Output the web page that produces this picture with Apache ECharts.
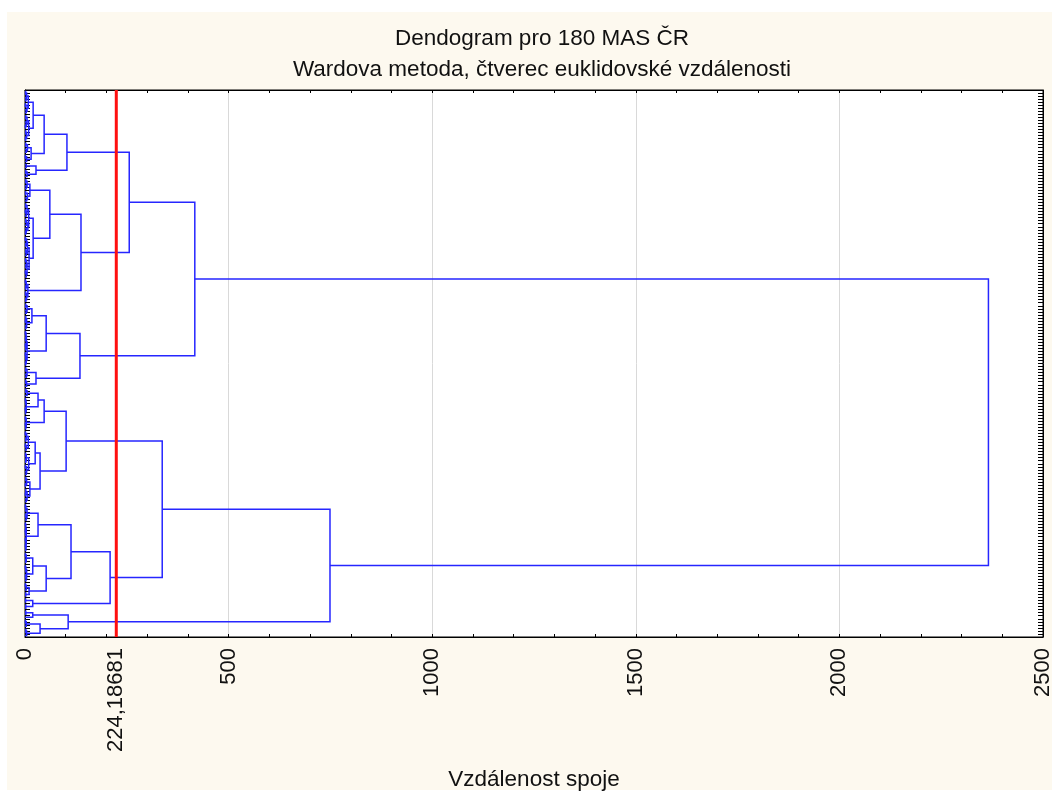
<!DOCTYPE html>
<html><head><meta charset="utf-8">
<script src="https://cdn.jsdelivr.net/npm/echarts@6/dist/echarts.min.js"></script>
<style>
html,body{margin:0;padding:0;background:#fff;}
#bg{position:absolute;left:7px;top:12px;width:1045px;height:778px;background:#fdf9ef;}
#chart{position:absolute;left:0;top:0;width:1052px;height:792px;}
</style></head><body>
<div id="bg"></div><div id="chart"></div>
<script>
const titleText = 'Dendogram pro 180 MAS ČR';
const subtitleText = 'Wardova metoda, čtverec euklidovské vzdálenosti';
const xAxisName = 'Vzdálenost spoje';
const cutDistance = 224.18681;
const xTickLabels = [0, 224.18681, 500, 1000, 1500, 2000, 2500];
const leafCount = 180;

// Tree: a leaf is 1, a merge is [left, right, linkage distance]
// Cluster A, upper part
const G105 = [[[1,1,1.5],[1,1,2.5],4],[[1,1,1],[1,1,3],5],8];
const G131 = [[[1,1,2],[1,[1,1,1],3],5],[[1,1,2],[1,1,1.5],4],9];
const G153 = [[[1,1,2],[1,1,3],6],[[1,1,1],1,4],15];
const G170 = [[1,1,3],[[1,1,2],1,5],27];
const G189 = [[[1,1,2],[1,1,3],5],[[1,1,1.5],[1,1,4],6],12];
const G220 = [[[1,1,2],[[1,1,1],1,3],5],[[[1,1,2],1,4],[1,[1,1,1.5],3],7],9];
const G257 = [[[[1,1,1],[1,1,2],4],[[1,1,2],1,3],6],[[[1,1,1.5],[1,1,2.5],4],[[1,1,1],1,3],5],10];
const G291 = [[[1,1,1],[1,1,2],3],[[1,1,1.5],[1,1,2],4],7];
const G318 = [[[1,1,2],[1,1,3],5],[[1,[1,1,1],2],[1,1,2.5],4],17];
const G349 = [[[[1,1,1],[1,1,1.5],2.5],[[1,1,1],1,2],3.5],[[[1,1,1],1,2],[1,1,1.5],3],5];
const G377 = [[[1,1,2],[1,1,3],5],[[1,1,2],1,4],27];
const A1a = [[[G105, G131, 20], G153, 47], G170, 103];
const A1b = [[G189, [G220, G257, 20], 61], G291, 137.5];
const A2 = [[G318, G349, 52], G377, 135];
const clusterA = [[A1a, A1b, 256], A2, 417];
// Cluster B, lower part
const G393 = [[1,1,2],1,5];
const G407 = [[[1,1,1],1,2],[[1,1,1],1,1.5],3];
const G423 = [[1,1,1],[[1,1,1],1,2],3];
const G441 = [[[1,1,1],[1,1,2],4],[[1,1,1],1,3],8];
const G464 = [[[1,1,1.5],[1,1,2],3],[[1,1,1],[1,1,3],4],9];
const G490 = [[[1,1,2],[1,1,1],4],[[1,[1,1,1],2],[1,1,3],5],12];
const G513 = [[[1,1,1],1,2],[[1,1,1.5],1,3],5];
const G541 = [[[1,1,1],[[1,1,1],1,1.5],2],[[1,1,1],[[1,1,1],1,2],2.5],3];
const G555 = [[1,1,1],[1,1,2],3];
const G578 = [[[1,1,1],1,2],[[1,1,1.5],1,2.5],4];
const G589 = [[[1,1,1],1,3],[1,1,2],10];
const G602 = [[1,1,1.5],[1,1,2],19];
const G611 = [[1,1,2],1,19];
const G628 = [[[1,1,1],1,3],[[1,1,2],1,4],37];
const B1a = [[[G393, G407, 32], G423, 47], [[G441, G464, 25], G490, 37], 101];
const B1b = [[[G513, G541, 32], [[G555, G578, 19], G589, 52], 113], G602, 209];
const B2 = [G611, G628, 106];
const clusterB = [[B1a, B1b, 337], B2, 749];
const rootDistance = 2366;
const tree = [clusterA, clusterB, rootDistance];

// build link polylines (leaf positions = order index + 0.5)
const links = [];
let leafIdx = 0;
function layout(node) {
  if (node === 1) { const p = leafIdx + 0.5; leafIdx++; return {h: 0, p: p}; }
  const L = layout(node[0]), R = layout(node[1]), h = node[2];
  links.push([L.h, L.p, h, L.p, h, R.p, R.h, R.p]);
  return {h: h, p: (L.p + R.p) / 2};
}
layout(tree);

const FONT = "'Liberation Sans', Arial, sans-serif";
const chart = echarts.init(document.getElementById('chart'));
function axisLine() { return {show: true, onZero: false, lineStyle: {color: '#000', width: 1}}; }
function tick(len) { return {inside: true, length: len, lineStyle: {color: '#000', width: 1}}; }
function minor() { return {show: true, splitNumber: 5, length: 3, lineStyle: {color: '#000'}}; }
chart.setOption({
  backgroundColor: 'transparent',
  animation: false,
  title: [
    {text: titleText, left: 537, top: 22, textAlign: 'center',
     textStyle: {fontFamily: FONT, fontSize: 22.5, fontWeight: 'normal', color: '#111'}},
    {text: subtitleText, left: 537, top: 53, textAlign: 'center',
     textStyle: {fontFamily: FONT, fontSize: 22.5, fontWeight: 'normal', color: '#111'}}
  ],
  grid: {left: 25, right: 9, top: 90, bottom: 155, show: true, backgroundColor: '#fff',
         borderColor: '#000', borderWidth: 1, containLabel: false, outerBoundsMode: 'none'},
  xAxis: [
    {type: 'value', position: 'bottom', min: 0, max: 2500, interval: 500,
     name: xAxisName, nameLocation: 'middle', nameGap: 131,
     nameTextStyle: {fontFamily: FONT, fontSize: 22.5, color: '#111'},
     axisLine: axisLine(), axisTick: tick(3), minorTick: minor(),
     splitLine: {show: true, lineStyle: {color: '#d9d9d9', width: 1}},
     axisLabel: {customValues: xTickLabels, rotate: 90, margin: 11, fontFamily: FONT,
                 fontSize: 22, color: '#111',
                 formatter: v => String(v).replace('.', ',')}},
    {type: 'value', position: 'top', min: 0, max: 2500, interval: 500,
     axisLine: axisLine(), axisTick: tick(3), minorTick: minor(),
     splitLine: {show: false}, axisLabel: {show: false}}
  ],
  yAxis: [
    {type: 'value', position: 'left', min: 0, max: leafCount, interval: 1, inverse: true,
     axisLine: axisLine(), axisTick: tick(5),
     axisLabel: {show: false}, splitLine: {show: false}},
    {type: 'value', position: 'right', min: 0, max: leafCount, interval: 1, inverse: true,
     axisLine: axisLine(), axisTick: tick(5),
     axisLabel: {show: false}, splitLine: {show: false}}
  ],
  series: [
    {type: 'custom', xAxisIndex: 0, yAxisIndex: 0, silent: true, z: 2,
     data: links,
     encode: {x: [0, 2, 4, 6], y: [1, 3, 5, 7]},
     renderItem: function (params, api) {
       const pts = [];
       for (let k = 0; k < 4; k++) pts.push(api.coord([api.value(2 * k), api.value(2 * k + 1)]));
       return {type: 'polyline', shape: {points: pts},
               style: {stroke: '#2626ff', lineWidth: 1.5, fill: 'none'}};
     }},
    {type: 'line', xAxisIndex: 0, yAxisIndex: 0, silent: true, z: 5,
     data: [[cutDistance, 0], [cutDistance, leafCount]],
     symbol: 'none', lineStyle: {color: '#ff1010', width: 3}}
  ]
});
</script>
</body></html>
